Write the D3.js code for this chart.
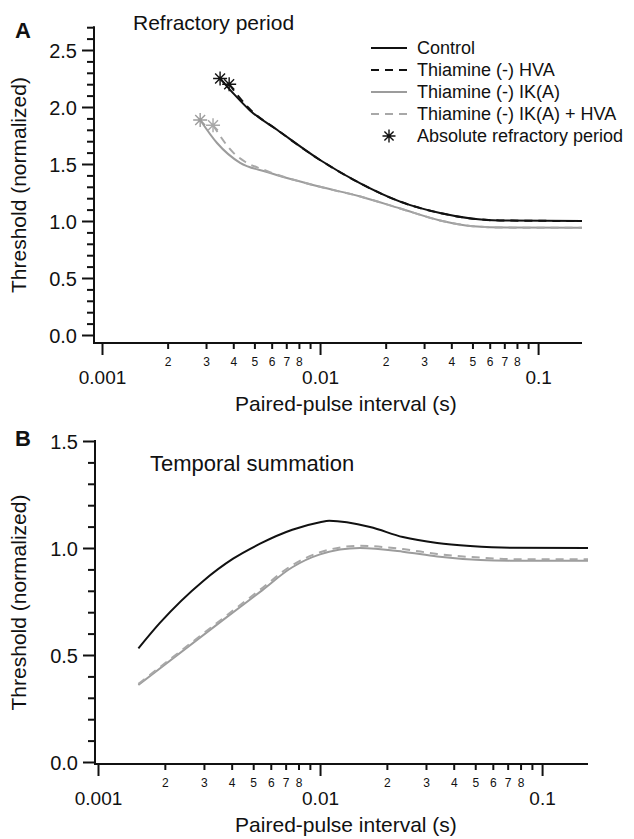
<!DOCTYPE html>
<html>
<head>
<meta charset="utf-8">
<script src="https://cdn.jsdelivr.net/npm/d3@7"></script>
<style>
  body { margin: 0; background: #fff; }
  svg { display: block; font-family: "Liberation Sans", Arial, Helvetica, sans-serif; }
</style>
</head>
<body>
<svg id="chart" width="634" height="839"></svg>
<script>
// ---- data ----
// Panel A: refractory period (x in s, y = normalized threshold)
const refCtrlX = [0.00348, 0.0040, 0.00477, 0.00635, 0.0100, 0.0153, 0.0233, 0.0355, 0.0503, 0.0667, 0.159];
const refCtrlY = [2.25, 2.12, 1.97, 1.80, 1.535, 1.33, 1.17, 1.07, 1.02, 1.005, 1.0];
const refHvaX = [0.00383, 0.0042, 0.00477, 0.00635, 0.0100, 0.0153, 0.0233, 0.0355, 0.0503, 0.0667, 0.159];
const refHvaY = [2.20, 2.10, 1.98, 1.80, 1.535, 1.33, 1.17, 1.07, 1.02, 1.005, 1.0];
const refIkaX = [0.00282, 0.00337, 0.0043, 0.00571, 0.0100, 0.0153, 0.0233, 0.0355, 0.0503, 0.0717, 0.159];
const refIkaY = [1.886, 1.684, 1.51, 1.43, 1.30, 1.215, 1.11, 1.005, 0.955, 0.942, 0.94];
const refIkaHvaX = [0.00323, 0.0040, 0.00453, 0.0055, 0.0100, 0.0153, 0.0233, 0.0355, 0.0503, 0.0717, 0.159];
const refIkaHvaY = [1.84, 1.60, 1.52, 1.45, 1.30, 1.215, 1.11, 1.005, 0.955, 0.942, 0.94];

// Panel B: temporal summation
const sumCtrlX = [0.00152, 0.0019, 0.00297, 0.00406, 0.00537, 0.0075, 0.0100, 0.0110, 0.0168, 0.0236, 0.0337, 0.0474, 0.0717, 0.161];
const sumCtrlY = [0.531, 0.65, 0.845, 0.95, 1.02, 1.085, 1.12, 1.127, 1.098, 1.051, 1.023, 1.009, 1.001, 1.0];
const sumIkaX = [0.00152, 0.00366, 0.00537, 0.0075, 0.0100, 0.0151, 0.0236, 0.0337, 0.0527, 0.0717, 0.161];
const sumIkaY = [0.36, 0.664, 0.795, 0.91, 0.97, 1.0, 0.983, 0.96, 0.944, 0.941, 0.94];
const sumIkaHvaY = [0.365, 0.672, 0.805, 0.92, 0.98, 1.01, 0.995, 0.972, 0.955, 0.948, 0.947];

// axis ticks / labels
const xMajorTicks = [0.001, 0.01, 0.1];
const xMinorLabels = [2, 3, 4, 5, 6, 7, 8];
const refYMajor = [0, 0.5, 1.0, 1.5, 2.0, 2.5];
const sumYMajor = [0, 0.5, 1.0, 1.5];
const legendLabels = ["Control", "Thiamine (-) HVA", "Thiamine (-) IK(A)", "Thiamine (-) IK(A) + HVA", "Absolute refractory period"];

const BLACK = "#111";
const GRAY = "#9c9c9c";
const GRAY_DASH = "#a8a8a8";

const svg = d3.select("#chart");

function zip(xs, ys) {
  return xs.map((x, i) => ({ x: x, y: ys[i] }));
}

function starPath(r) {
  const d = r * Math.SQRT1_2;
  return `M${-r},0L${r},0M0,${-r}L0,${r}M${-d},${-d}L${d},${d}M${-d},${d}L${d},${-d}`;
}

function drawPanel(p) {
  const x = d3.scaleLog().domain(p.xDomain).range(p.xRange);
  const y = d3.scaleLinear().domain(p.yDomain).range(p.yRange);
  const g = svg.append("g");

  // x ticks: every 1..9 per decade inside the domain
  const xTicks = [];
  xMajorTicks.forEach((d) => {
    for (let m = 1; m <= 9; m++) {
      const v = +(m * d).toPrecision(3);
      if (v <= p.xDomain[1]) xTicks.push(v);
    }
  });

  const xAxis = d3.axisBottom(x).tickValues(xTicks).tickSize(6).tickFormat((d) => {
    const lead = Math.round(d / Math.pow(10, Math.floor(Math.log10(d) + 1e-9)));
    if (lead === 1) return d3.format("")(d);
    return xMinorLabels.includes(lead) ? String(lead) : "";
  });

  const gx = g.append("g").attr("transform", `translate(0,${p.xAxisY})`).call(xAxis);
  gx.select(".domain").remove();
  gx.selectAll(".tick line")
    .attr("stroke", BLACK)
    .attr("stroke-width", 2)
    .attr("y2", (d) => (xMajorTicks.includes(d) ? 12 : 6));
  gx.selectAll(".tick text")
    .attr("fill", BLACK)
    .attr("dy", "0.35em")
    .attr("y", (d) => (xMajorTicks.includes(d) ? 34 : 19))
    .attr("font-size", (d) => (xMajorTicks.includes(d) ? 19 : 12));

  g.append("line")
    .attr("x1", p.yAxisX).attr("x2", p.xRange[1])
    .attr("y1", p.xAxisY).attr("y2", p.xAxisY)
    .attr("stroke", BLACK).attr("stroke-width", 2);

  // y axis with 0.1 minor ticks
  const yTicks = d3.range(0, Math.round(p.yTop * 10) + 1).map((i) => +(i / 10).toFixed(1));
  const isMajor = (d) => p.yMajor.some((m) => Math.abs(m - d) < 1e-6);
  const yAxis = d3.axisLeft(y).tickValues(yTicks).tickSize(7)
    .tickFormat((d) => (isMajor(d) ? d3.format(".1f")(d) : ""));
  const gy = g.append("g").attr("transform", `translate(${p.yAxisX},0)`).call(yAxis);
  gy.select(".domain").remove();
  gy.selectAll(".tick line")
    .attr("stroke", BLACK)
    .attr("stroke-width", 2)
    .attr("x2", (d) => (isMajor(d) ? -12 : -7));
  gy.selectAll(".tick text")
    .attr("fill", BLACK)
    .attr("font-size", 20)
    .attr("x", -17)
    .attr("dy", "0.35em");

  g.append("line")
    .attr("x1", p.yAxisX).attr("x2", p.yAxisX)
    .attr("y1", y(p.yTop) - 1).attr("y2", p.xAxisY + 1)
    .attr("stroke", BLACK).attr("stroke-width", 2);

  // axis titles
  g.append("text")
    .attr("transform", "rotate(-90)")
    .attr("x", -(y(p.yTop) + p.xAxisY) / 2)
    .attr("y", 18)
    .attr("text-anchor", "middle")
    .attr("dominant-baseline", "central")
    .attr("font-size", 21)
    .attr("fill", BLACK)
    .text("Threshold (normalized)");

  g.append("text")
    .attr("x", 346)
    .attr("y", p.xAxisY + 68)
    .attr("text-anchor", "middle")
    .attr("font-size", 21)
    .attr("fill", BLACK)
    .text("Paired-pulse interval (s)");

  g.append("text")
    .attr("x", 15).attr("y", p.letterY)
    .attr("font-size", 22).attr("font-weight", "bold")
    .attr("fill", BLACK)
    .text(p.letter);

  g.append("text")
    .attr("x", p.titleX).attr("y", p.titleY)
    .attr("font-size", p.titleSize)
    .attr("fill", BLACK)
    .text(p.title);

  // curves
  const line = d3.line().x((d) => x(d.x)).y((d) => y(d.y)).curve(d3.curveMonotoneX);
  p.series.forEach((s) => {
    g.append("path")
      .datum(s.data)
      .attr("fill", "none")
      .attr("stroke", s.color)
      .attr("stroke-width", 2)
      .attr("stroke-dasharray", s.dash || null)
      .attr("d", line);
  });
  p.series.filter((s) => s.star).forEach((s) => {
    g.append("path")
      .attr("transform", `translate(${x(s.data[0].x)},${y(s.data[0].y)})`)
      .attr("d", starPath(7))
      .attr("stroke", s.color)
      .attr("stroke-width", 1.4)
      .attr("fill", "none");
  });
}

const refSeries = [
  { data: zip(refIkaX, refIkaY), color: GRAY, star: true },
  { data: zip(refIkaHvaX, refIkaHvaY), color: GRAY_DASH, dash: "8,6", star: true },
  { data: zip(refCtrlX, refCtrlY), color: BLACK, star: true },
  { data: zip(refHvaX, refHvaY), color: BLACK, dash: "8,6", star: true },
];

const sumSeries = [
  { data: zip(sumIkaX, sumIkaY), color: GRAY },
  { data: zip(sumIkaX, sumIkaHvaY), color: GRAY_DASH, dash: "8,6" },
  { data: zip(sumCtrlX, sumCtrlY), color: BLACK },
];

drawPanel({
  xDomain: [0.001, 0.159], xRange: [102, 582],
  yDomain: [0, 2.5], yRange: [335, 50], yTop: 2.7, yMajor: refYMajor,
  yAxisX: 94, xAxisY: 343,
  letter: "A", letterY: 38,
  title: "Refractory period", titleX: 133, titleY: 30, titleSize: 21,
  series: refSeries,
});

drawPanel({
  xDomain: [0.001, 0.161], xRange: [98, 588],
  yDomain: [0, 1.5], yRange: [762, 441], yTop: 1.5, yMajor: sumYMajor,
  yAxisX: 95, xAxisY: 764,
  letter: "B", letterY: 446,
  title: "Temporal summation", titleX: 150, titleY: 471, titleSize: 22,
  series: sumSeries,
});

// legend (panel A)
const legendStyles = [
  { color: BLACK, dash: null },
  { color: BLACK, dash: "8,6" },
  { color: GRAY, dash: null },
  { color: GRAY_DASH, dash: "8,6" },
  { color: BLACK, star: true },
];
const legend = svg.append("g").attr("transform", "translate(371,48)");
const items = legend.selectAll("g").data(legendLabels).enter().append("g")
  .attr("transform", (d, i) => `translate(0,${i * 22})`);
items.each(function (d, i) {
  const st = legendStyles[i];
  const it = d3.select(this);
  if (st.star) {
    it.append("path").attr("transform", "translate(18,0)").attr("d", starPath(6.5))
      .attr("stroke", st.color).attr("stroke-width", 1.4).attr("fill", "none");
  } else {
    it.append("line").attr("x1", 0).attr("x2", 36).attr("y1", 0).attr("y2", 0)
      .attr("stroke", st.color).attr("stroke-width", 2)
      .attr("stroke-dasharray", st.dash);
  }
});
items.append("text")
  .attr("x", 46).attr("dy", "0.35em")
  .attr("font-size", 18).attr("fill", BLACK)
  .text((d) => d);
</script>
</body>
</html>
